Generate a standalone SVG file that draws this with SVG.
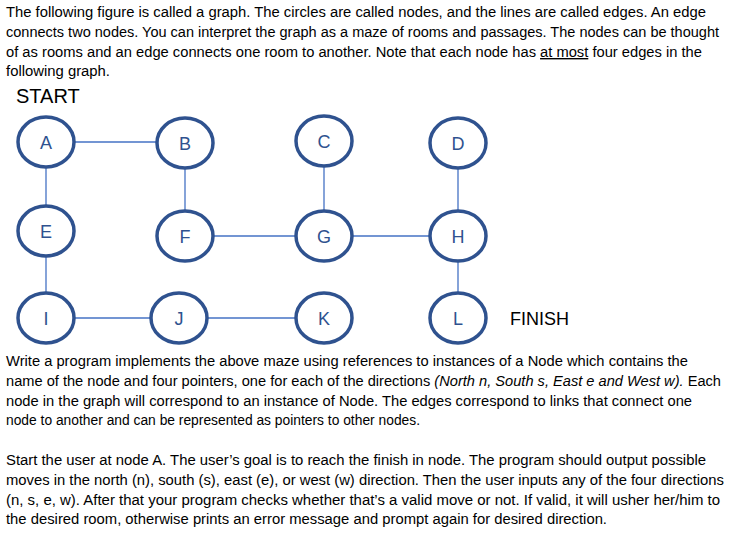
<svg xmlns="http://www.w3.org/2000/svg" width="742" height="540" viewBox="0 0 742 540">
<style>
.t{font-family:"Liberation Sans",Arial,sans-serif;font-size:14px;fill:#000}
.n ellipse{fill:#fff;stroke:#2f528f;stroke-width:3.5}
.n text{font-family:"Liberation Sans",Arial,sans-serif;font-size:18px;fill:#2f528f;text-anchor:middle}
.e line{stroke:#4472c4;stroke-width:1.3}
</style>
<rect width="742" height="540" fill="#fff"/>
<text class="t" x="6" y="17" textLength="700" lengthAdjust="spacingAndGlyphs">The following figure is called a graph.  The circles are called nodes, and the lines are called edges. An edge</text>
<text class="t" x="6" y="37" textLength="713" lengthAdjust="spacingAndGlyphs">connects two nodes. You can interpret the graph as a maze of rooms and passages. The nodes can be thought</text>
<text class="t" x="6" y="57" textLength="696" lengthAdjust="spacingAndGlyphs">of as rooms and an edge connects one room to another. Note that each node has <tspan text-decoration="underline">at most</tspan> four edges in the</text>
<text class="t" x="6" y="76" textLength="104" lengthAdjust="spacingAndGlyphs">following graph.</text>
<text class="t" x="16" y="103" style="font-size:20px">START</text>
<g class="e">
<line x1="74" y1="142" x2="157" y2="142"/>
<line x1="46" y1="168" x2="46" y2="205"/>
<line x1="185" y1="169" x2="185" y2="210"/>
<line x1="324" y1="167" x2="324" y2="210"/>
<line x1="458" y1="169" x2="458" y2="210"/>
<line x1="46" y1="257" x2="46" y2="292"/>
<line x1="213" y1="236" x2="296" y2="236"/>
<line x1="352" y1="236" x2="430" y2="236"/>
<line x1="458" y1="262" x2="458" y2="292"/>
<line x1="74" y1="318" x2="151" y2="318"/>
<line x1="207" y1="318" x2="296" y2="318"/>
</g>
<g id="A" class="n"><ellipse cx="46" cy="142" rx="28" ry="25"/><text x="46" y="149">A</text></g>
<g id="B" class="n"><ellipse cx="185" cy="143" rx="28" ry="25"/><text x="185" y="150">B</text></g>
<g id="C" class="n"><ellipse cx="324" cy="141" rx="28" ry="25"/><text x="324" y="148">C</text></g>
<g id="D" class="n"><ellipse cx="458" cy="143" rx="28" ry="25"/><text x="458" y="150">D</text></g>
<g id="E" class="n"><ellipse cx="46" cy="231" rx="28" ry="25"/><text x="46" y="238">E</text></g>
<g id="F" class="n"><ellipse cx="185" cy="236" rx="28" ry="25"/><text x="185" y="243">F</text></g>
<g id="G" class="n"><ellipse cx="324" cy="236" rx="28" ry="25"/><text x="324" y="243">G</text></g>
<g id="H" class="n"><ellipse cx="458" cy="236" rx="28" ry="25"/><text x="458" y="243">H</text></g>
<g id="I" class="n"><ellipse cx="46" cy="318" rx="28" ry="25"/><text x="46" y="325">I</text></g>
<g id="J" class="n"><ellipse cx="179" cy="318" rx="28" ry="25"/><text x="179" y="325">J</text></g>
<g id="K" class="n"><ellipse cx="324" cy="318" rx="28" ry="25"/><text x="324" y="325">K</text></g>
<g id="L" class="n"><ellipse cx="458" cy="318" rx="28" ry="25"/><text x="458" y="325">L</text></g>
<text class="t" x="510" y="325" style="font-size:18px">FINISH</text>
<text class="t" x="6" y="366" textLength="682" lengthAdjust="spacingAndGlyphs">Write a program implements the above maze using references to instances of a Node which contains the</text>
<text class="t" x="6" y="386" textLength="715" lengthAdjust="spacingAndGlyphs">name of the node and four pointers, one for each of the directions <tspan font-style="italic">(North n, South s, East e and West w).</tspan> Each</text>
<text class="t" x="6" y="406" textLength="686" lengthAdjust="spacingAndGlyphs">node in the graph will correspond to an instance of Node. The edges correspond to links that connect one</text>
<text class="t" x="6" y="425" textLength="414" lengthAdjust="spacingAndGlyphs">node to another and can be represented as pointers to other nodes.</text>
<text class="t" x="6" y="465" textLength="700" lengthAdjust="spacingAndGlyphs">Start the user at node A. The user’s goal is to reach the finish in node. The program should output possible</text>
<text class="t" x="6" y="485" textLength="718" lengthAdjust="spacingAndGlyphs">moves in the north (n), south (s), east (e), or west (w) direction. Then the user inputs any of the four directions</text>
<text class="t" x="6" y="505" textLength="714" lengthAdjust="spacingAndGlyphs">(n, s, e, w). After that your program checks whether that’s a valid move or not. If valid, it will usher her/him to</text>
<text class="t" x="6" y="524" textLength="601" lengthAdjust="spacingAndGlyphs">the desired room, otherwise prints an error message and prompt again for desired direction.</text>
</svg>
